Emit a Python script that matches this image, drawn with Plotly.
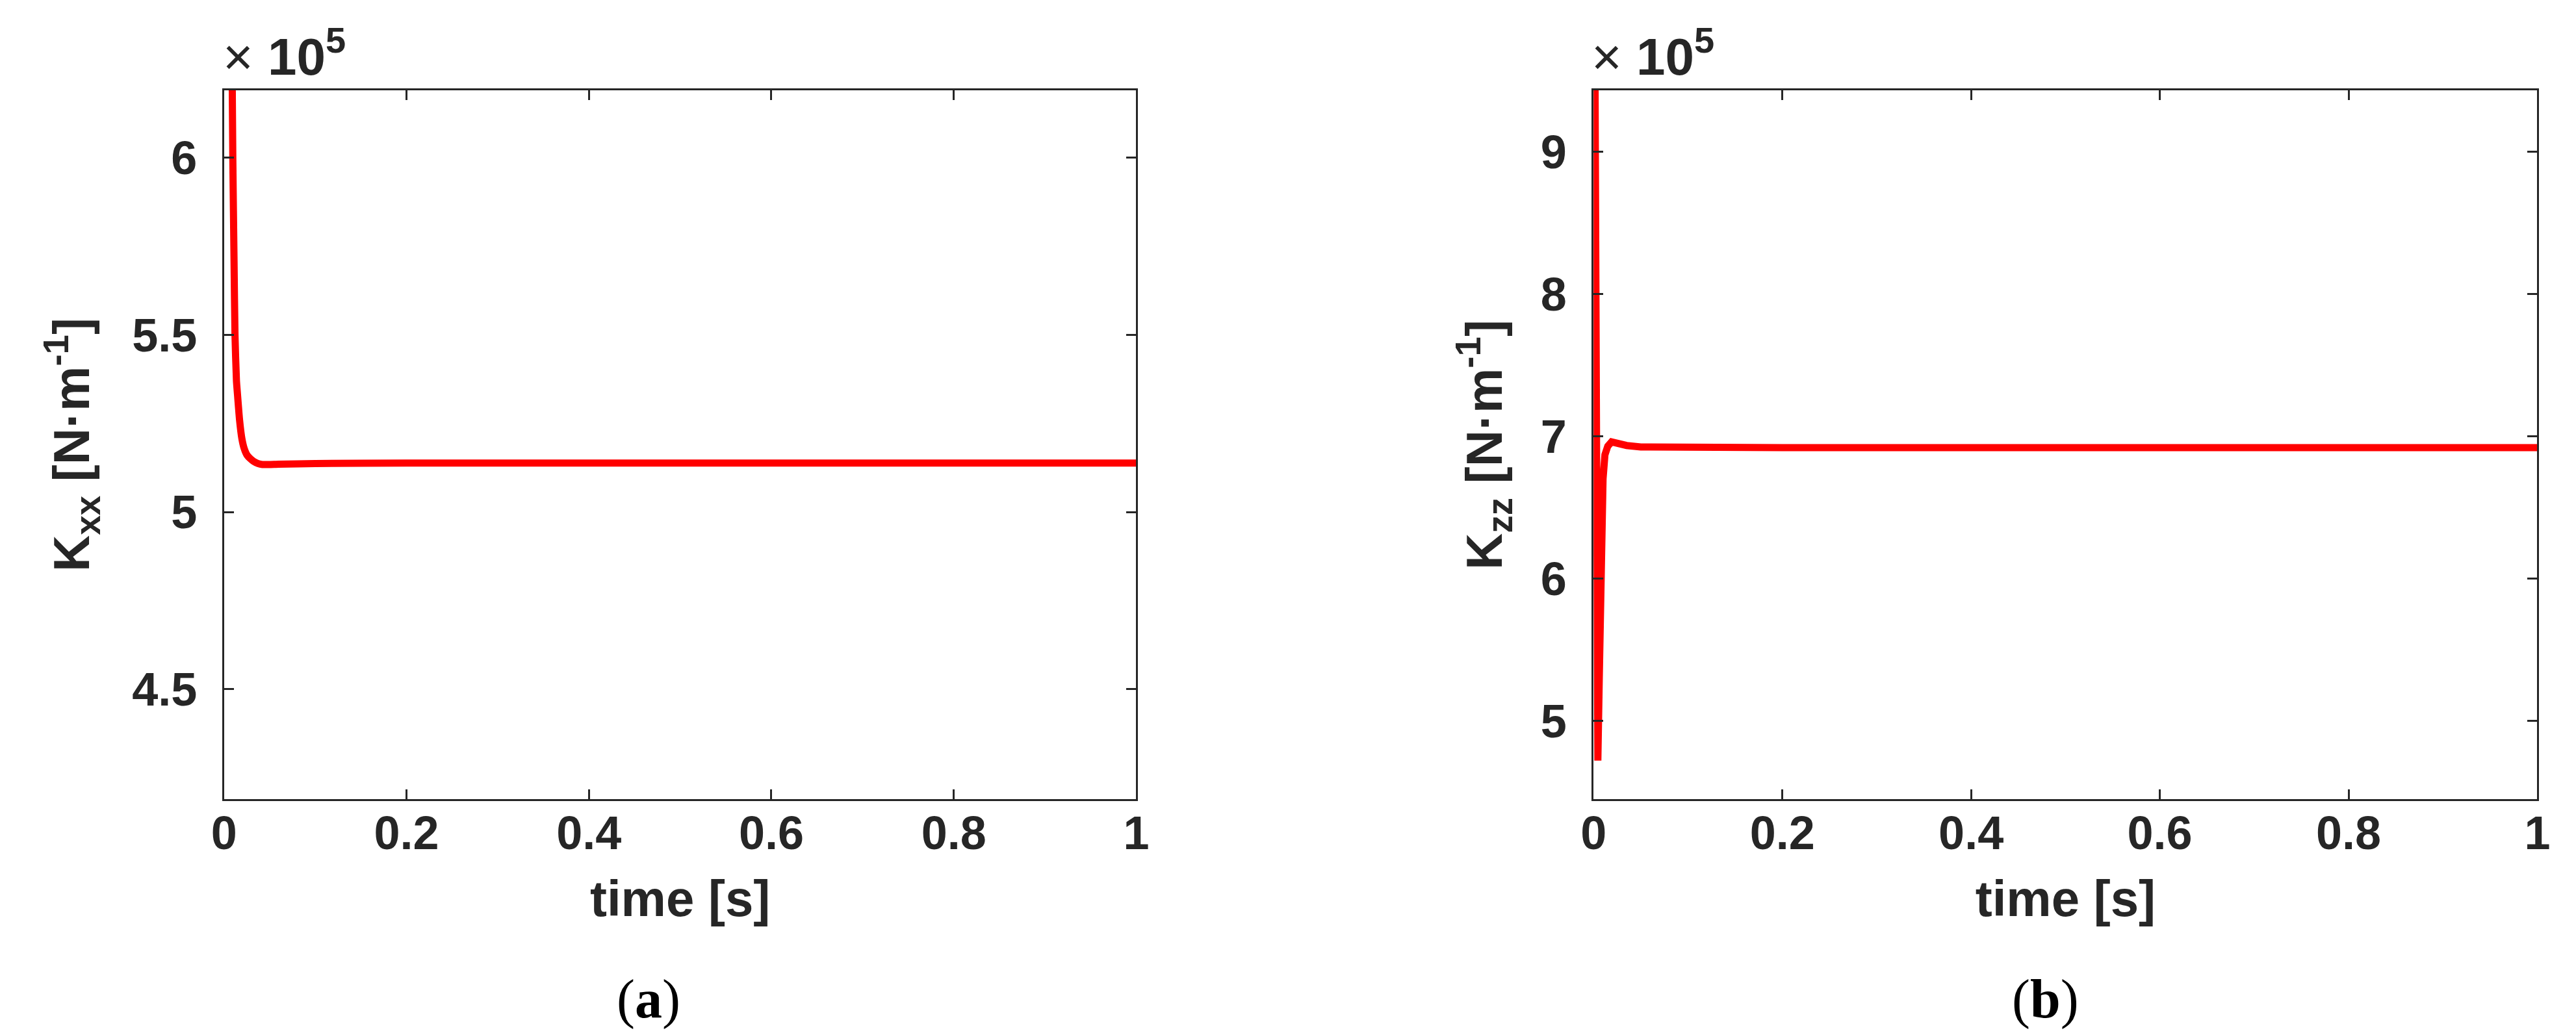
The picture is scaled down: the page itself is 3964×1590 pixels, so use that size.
import plotly.graph_objects as go

# ---- data (stiffness values in units of 1e5 N/m) ----
t_a = [0.0, 0.004, 0.007, 0.009, 0.0096, 0.011, 0.012, 0.0136, 0.0148, 0.017,
       0.0195, 0.022, 0.0254, 0.0290, 0.0324, 0.037, 0.042, 0.06, 0.1, 0.2, 0.4, 0.6, 0.8, 1.0]
kxx = [9.0, 7.5, 6.6, 6.2, 6.0, 5.7, 5.5, 5.37, 5.33, 5.26,
       5.208, 5.180, 5.160, 5.150, 5.143, 5.137, 5.134, 5.135, 5.137, 5.138, 5.138, 5.138, 5.138, 5.138]

t_b = [0.0, 0.001, 0.002, 0.003, 0.0045, 0.006, 0.008, 0.010, 0.012, 0.015,
       0.019, 0.025, 0.035, 0.05, 0.1, 0.2, 0.4, 0.6, 0.8, 1.0]
kzz = [12.0, 10.0, 7.6, 5.6, 4.72, 5.3, 6.2, 6.7, 6.87, 6.93,
       6.96, 6.95, 6.935, 6.925, 6.92, 6.92, 6.92, 6.92, 6.92, 6.92]

x_title = "time [s]"
y_title_a = "K<sub>xx</sub> [N·m<sup>-1</sup>]"
y_title_b = "K<sub>zz</sub> [N·m<sup>-1</sup>]"
captions = ["(<b>a</b>)", "(<b>b</b>)"]

W, H = 3964, 1590
INK = "#262626"
RED = "#FF0000"

def px_x(p):
    return p / W

def px_y(p):
    return 1 - p / H

fig = go.Figure()
fig.add_trace(go.Scatter(x=t_a, y=kxx, mode="lines",
                         line=dict(color=RED, width=11, shape="spline", smoothing=0.5),
                         xaxis="x", yaxis="y", showlegend=False))
fig.add_trace(go.Scatter(x=t_b, y=kzz, mode="lines", line=dict(color=RED, width=11),
                         xaxis="x2", yaxis="y2", showlegend=False))

tick_font = dict(family="Liberation Sans, Arial, sans-serif", size=72, color=INK, weight="bold")
title_font = dict(family="Liberation Sans, Arial, sans-serif", size=78, color=INK, weight="bold")

common = dict(showline=True, linecolor=INK, linewidth=3, mirror="ticks",
              ticks="inside", ticklen=15, tickwidth=3, tickcolor=INK,
              showgrid=False, zeroline=False, tickfont=tick_font)

y_dom = [px_y(1222), px_y(131)]

fig.update_layout(
    width=W, height=H,
    margin=dict(l=0, r=0, t=0, b=0),
    paper_bgcolor="white", plot_bgcolor="white",
    xaxis=dict(domain=[px_x(320), px_x(1738)], range=[0, 1], dtick=0.2, tick0=0,
               anchor="y", ticklabelstandoff=-12,
               title=dict(text=x_title, font=title_font, standoff=34), **common),
    yaxis=dict(domain=y_dom, range=[4.19, 6.19], dtick=0.5, tick0=0,
               anchor="x", ticklabelstandoff=24,
               title=dict(text=y_title_a, font=title_font, standoff=40), **common),
    xaxis2=dict(domain=[px_x(2449), px_x(3916)], range=[0, 1], dtick=0.2, tick0=0,
                anchor="y2", ticklabelstandoff=-12,
                title=dict(text=x_title, font=title_font, standoff=34), **common),
    yaxis2=dict(domain=y_dom, range=[4.449, 9.432], dtick=1, tick0=0,
                anchor="x2", ticklabelstandoff=24,
                title=dict(text=y_title_b, font=title_font, standoff=34), **common),
)

exp_text = "<span style='font-weight:normal'>× </span><b>10<sup>5</sup></b>"
for xl in (316, 2444):
    fig.add_annotation(xref="paper", yref="paper", x=px_x(xl), y=px_y(126),
                       xanchor="left", yanchor="bottom", showarrow=False,
                       text=exp_text,
                       font=dict(family="Liberation Sans, Arial, sans-serif", size=80, color=INK))

for cx, cap in zip((980, 3151), captions):
    fig.add_annotation(xref="paper", yref="paper", x=px_x(cx), y=px_y(1530),
                       xanchor="center", yanchor="middle", showarrow=False,
                       text=cap,
                       font=dict(family="Liberation Serif, Times New Roman, serif", size=84, color="black"))

fig.write_html("out.html")
